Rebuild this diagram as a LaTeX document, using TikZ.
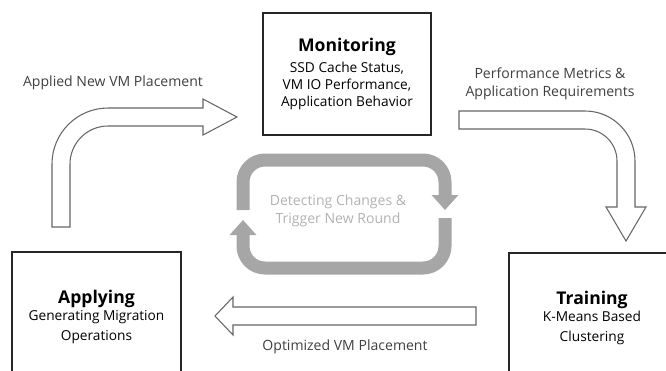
\documentclass[tikz,border=0pt]{standalone}
\usepackage{fontspec}
\setmainfont{Open Sans}
\usetikzlibrary{arrows.meta,positioning}

\tikzset{
  stage/.style={draw=black!85, line width=1.1pt, align=center, inner sep=0pt},
  hollow/.style={draw=black!60, line width=0.6pt, fill=white, line join=miter},
  loopline/.style={draw=black!35, line width=0.26cm, rounded corners=0.44cm,
    -{Triangle[width=0.52cm,length=0.3cm]}},
  lbl/.style={text=black!75, align=center, font=\fontsize{8}{10}\selectfont},
}
\newcommand{\stagetitle}[2][2pt]{{\fontsize{10}{12}\selectfont\bfseries #2}\\[#1]}

\begin{document}
\begin{tikzpicture}[x=0.02cm,y=-0.02cm]
\useasboundingbox (0,0) rectangle (666,370);

% the three stages
\node[stage, minimum width=3.36cm, minimum height=2.44cm, font=\fontsize{7.8}{9.6}\selectfont]
  (mon) at (347,74) {\stagetitle{Monitoring}SSD Cache Status,\\VM IO Performance,\\Application Behavior};
\node[stage, minimum width=3.38cm, minimum height=2.6cm, font=\fontsize{7.8}{11.3}\selectfont]
  (app) at (96.5,317) {\stagetitle[-1.5pt]{Applying}Generating Migration\\Operations};
\node[stage, minimum width=3.32cm, minimum height=2.58cm, font=\fontsize{7.8}{11.3}\selectfont]
  (train) at (592,317.5) {\stagetitle[-1.5pt]{Training}K-Means Based\\Clustering};

% hollow arrows between the stages
\draw[hollow] (52,227) -- (52,164) arc[start angle=180, end angle=90, radius=1.12cm]
  -- (203,108) -- (203,99) -- (237,117) -- (203,135) -- (203,126) -- (108,126)
  arc[start angle=90, end angle=180, radius=0.76cm] -- (70,227) -- cycle;
\draw[hollow] (459,111) -- (585,111) arc[start angle=90, end angle=0, radius=1cm]
  -- (635,207) -- (646,207) -- (626,241) -- (606,207) -- (617,207) -- (617,161)
  arc[start angle=0, end angle=90, radius=0.64cm] -- (459,129) -- cycle;
\draw[hollow] (476,307) -- (233,307) -- (233,297) -- (215,316) -- (233,335)
  -- (233,325) -- (476,325) -- cycle;

\node[lbl] (applied) at (113,83) {Applied New VM Placement};
\node[lbl] (metrics) at (550,84) {Performance Metrics \&\\Application Requirements};
\node[lbl] (optimized) at (345,347) {Optimized VM Placement};

% detection loop
\draw[loopline] (243,210) -- (243,160) -- (445,160) -- (445,210);
\draw[loopline] (445,218) -- (445,268) -- (243,268) -- (243,220);
\node[lbl, text=black!30] (detect) at (338,211) {Detecting Changes \&\\Trigger New Round};

\end{tikzpicture}
\end{document}
